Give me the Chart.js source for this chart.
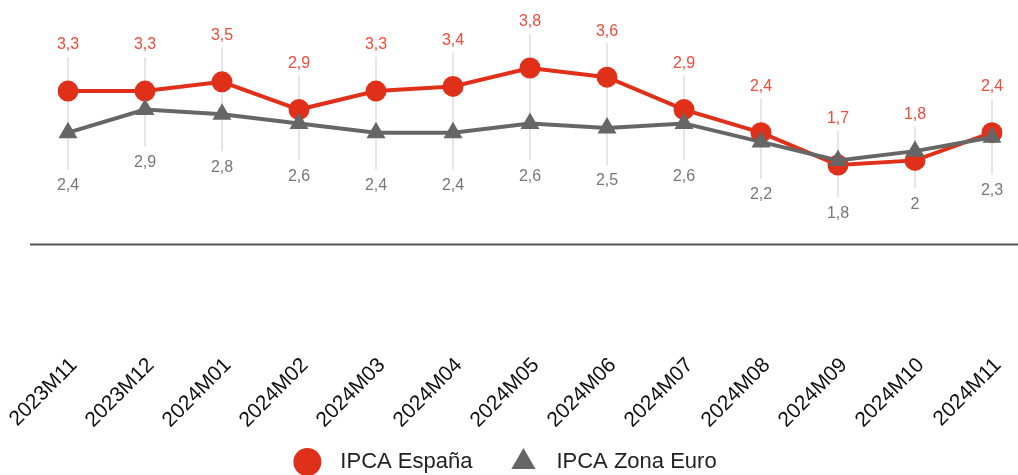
<!DOCTYPE html>
<html>
<head>
<meta charset="utf-8">
<script src="https://cdn.jsdelivr.net/npm/chart.js@4.4.1/dist/chart.umd.min.js"></script>
<style>
  html, body { margin:0; padding:0; background:#fff; }
  #wrap { width:1018px; height:475px; position:relative; }
</style>
</head>
<body>
<div id="wrap"><canvas id="ipcaChart"></canvas></div>
<script>
/* ── Data ─────────────────────────────────────────── */
const months = ["2023M11","2023M12","2024M01","2024M02","2024M03","2024M04","2024M05",
                "2024M06","2024M07","2024M08","2024M09","2024M10","2024M11"];
const ipcaSpain = [3.3, 3.3, 3.5, 2.9, 3.3, 3.4, 3.8, 3.6, 2.9, 2.4, 1.7, 1.8, 2.4];
const ipcaEuro  = [2.4, 2.9, 2.8, 2.6, 2.4, 2.4, 2.6, 2.5, 2.6, 2.2, 1.8, 2.0, 2.3];

const RED       = "#e1301a";
const RED_TEXT  = "#ee4b3b";
const GREY      = "#666666";
const GREY_TEXT = "#777777";
const FONT      = "'Liberation Sans', Arial, sans-serif";

const fmt = v => String(v).replace(".", ",");

// zero baseline, drawn wider than the plot area like the original
const baselinePlugin = {
  id: "baseline",
  beforeDatasetsDraw(chart) {
    const { ctx } = chart;
    const y0 = Math.round(chart.scales.y.getPixelForValue(0)) + 0.5;
    ctx.save();
    ctx.strokeStyle = "#555";
    ctx.lineWidth = 2;
    ctx.beginPath();
    ctx.moveTo(30, y0);
    ctx.lineTo(chart.width, y0);
    ctx.stroke();
    ctx.restore();
  }
};

// value labels with thin leader line between them
const valueLabels = {
  id: "valueLabels",
  beforeDatasetsDraw(chart) {
    const { ctx } = chart;
    const es = chart.getDatasetMeta(0).data;
    const eu = chart.getDatasetMeta(1).data;
    ctx.save();
    ctx.strokeStyle = "#e6e6e6";
    ctx.lineWidth = 2;
    es.forEach((p, i) => {
      ctx.beginPath();
      ctx.moveTo(p.x, p.y - 34);
      ctx.lineTo(p.x, eu[i].y + 37);
      ctx.stroke();
    });
    ctx.restore();
  },
  afterDatasetsDraw(chart) {
    const { ctx } = chart;
    const es = chart.getDatasetMeta(0).data;
    const eu = chart.getDatasetMeta(1).data;
    ctx.save();
    ctx.font = "16px " + FONT;
    ctx.textAlign = "center";
    ctx.textBaseline = "middle";
    es.forEach((p, i) => {
      ctx.fillStyle = RED_TEXT;
      ctx.fillText(fmt(ipcaSpain[i]), p.x, p.y - 46);
      ctx.fillStyle = GREY_TEXT;
      ctx.fillText(fmt(ipcaEuro[i]), eu[i].x, eu[i].y + 53);
    });
    ctx.restore();
  }
};

// legend row at the bottom, spaced like the original
const bottomLegend = {
  id: "bottomLegend",
  afterDraw(chart) {
    const { ctx } = chart;
    const sets = chart.data.datasets;
    const y = 462, r = 14, gap = 33, between = 51;
    ctx.save();
    ctx.font = "22px " + FONT;
    const widths = sets.map(d => ctx.measureText(d.label).width);
    const total = widths.reduce((s, w) => s + r + gap + w, 0) + between * (sets.length - 1);
    let x = (chart.width - total) / 2 + 3 + r;
    sets.forEach((d, i) => {
      ctx.fillStyle = d.pointBackgroundColor;
      Chart.helpers.drawPoint(ctx, { pointStyle:d.pointStyle, radius:r, borderWidth:0 }, x, y);
      ctx.fillStyle = "#222";
      ctx.textAlign = "left";
      ctx.textBaseline = "middle";
      ctx.fillText(d.label, x + gap, y);
      x += gap + widths[i] + between;
    });
    ctx.restore();
  }
};

new Chart(document.getElementById("ipcaChart"), {
  type: "line",
  data: {
    labels: months,
    datasets: [
      { label:"IPCA España", data:ipcaSpain, borderColor:RED, backgroundColor:RED,
        borderWidth:4, pointStyle:"circle", pointRadius:10.5, pointHoverRadius:10.5,
        pointBorderWidth:0, pointBackgroundColor:RED, order:1 },
      { label:"IPCA Zona Euro", data:ipcaEuro, borderColor:GREY, backgroundColor:GREY,
        borderWidth:4, pointStyle:"triangle", pointRadius:11, pointHoverRadius:11,
        pointBorderWidth:0, pointBackgroundColor:GREY, order:0 }
    ]
  },
  options: {
    responsive:true, maintainAspectRatio:false, animation:false,
    layout:{ padding:{ top:12.5, left:68, right:26, bottom:34 } },
    plugins: {
      legend:{ display:false },
      tooltip:{ enabled:false }
    },
    scales: {
      x:{
        grid:{ display:false }, border:{ display:false },
        ticks:{ color:"#111", minRotation:45, maxRotation:45, padding:9, labelOffset:6,
                font:{ family:FONT, size:21 } },
        afterFit: s => { s.height = 105; s.paddingLeft = 0; s.paddingRight = 0; }
      },
      y:{ display:false, min:-2, max:5 }
    }
  },
  plugins:[baselinePlugin, valueLabels, bottomLegend]
});
</script>
</body>
</html>
